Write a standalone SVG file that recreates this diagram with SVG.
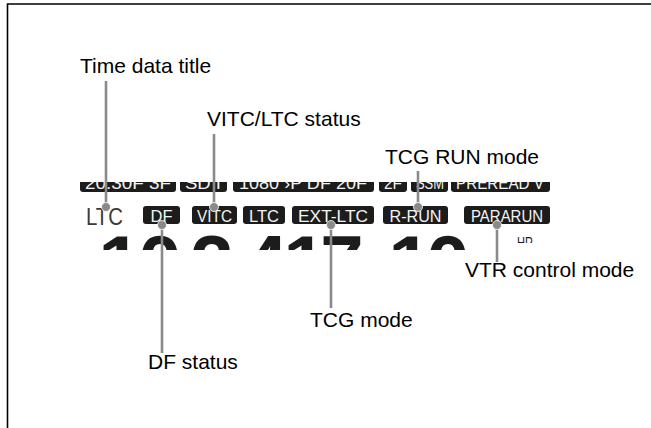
<svg xmlns="http://www.w3.org/2000/svg" width="651" height="428" viewBox="0 0 651 428">
<style>
.lbl{font-family:"Liberation Sans",Arial,sans-serif;font-size:21px;fill:#000}
.box{fill:#1c1c1c}
.bt{font-family:"Liberation Sans",Arial,sans-serif;font-size:17px;fill:#f4f4f4;text-anchor:middle}
.big{font-family:"Liberation Sans",Arial,sans-serif;font-size:78px;font-weight:bold;fill:#1c1c1c;text-anchor:middle}
.con{stroke:#8a8a8a;stroke-width:2.6;fill:none}
.dot{fill:#8a8a8a;stroke:#fff;stroke-width:0.8}
</style>
<defs>
<clipPath id="topRow"><rect x="0" y="182" width="651" height="10"/></clipPath>
<clipPath id="bigRow"><rect x="0" y="232" width="651" height="18"/></clipPath>
<clipPath id="hrClip"><rect x="500" y="230" width="60" height="13"/></clipPath>
</defs>
<rect width="651" height="428" fill="#fff"/>
<path d="M7.5,428 V4 H651" fill="none" stroke="#000" stroke-width="1.6"/>

<g id="display">
<g clip-path="url(#topRow)">
<rect class="box" x="80" y="174" width="96" height="18" rx="3"/>
<text class="bt" x="128" y="189" textLength="86" lengthAdjust="spacingAndGlyphs">20.30F 3F</text>
<rect class="box" x="180" y="174" width="47" height="18" rx="3"/>
<text class="bt" x="203" y="189" textLength="36" lengthAdjust="spacingAndGlyphs">SD I</text>
<rect class="box" x="233" y="174" width="141" height="18" rx="3"/>
<text class="bt" x="303" y="189" textLength="128" lengthAdjust="spacingAndGlyphs">1080 ›P DF 20F</text>
<rect class="box" x="379" y="174" width="28" height="18" rx="3"/>
<text class="bt" x="393" y="189" textLength="18" lengthAdjust="spacingAndGlyphs">2F</text>
<rect class="box" x="411" y="174" width="37" height="18" rx="3"/>
<text class="bt" x="430" y="189" textLength="28" lengthAdjust="spacingAndGlyphs">SSM</text>
<rect class="box" x="451" y="174" width="99" height="18" rx="3"/>
<text class="bt" x="500" y="189" textLength="88" lengthAdjust="spacingAndGlyphs">PREREAD V</text>
</g>
<text x="86" y="225" font-family="Liberation Sans,Arial,sans-serif" font-size="24" fill="#3a3a3a" textLength="37" lengthAdjust="spacingAndGlyphs">LTC</text>
<rect class="box" x="143" y="206" width="37" height="18" rx="3"/>
<text class="bt" x="161.5" y="221.5" textLength="22" lengthAdjust="spacingAndGlyphs">DF</text>
<rect class="box" x="192" y="206" width="45" height="18" rx="3"/>
<text class="bt" x="214.5" y="221.5" textLength="35" lengthAdjust="spacingAndGlyphs">VITC</text>
<rect class="box" x="243" y="206" width="42" height="18" rx="3"/>
<text class="bt" x="264" y="221.5" textLength="30" lengthAdjust="spacingAndGlyphs">LTC</text>
<rect class="box" x="292" y="206" width="82" height="18" rx="3"/>
<text class="bt" x="333" y="221.5" textLength="70" lengthAdjust="spacingAndGlyphs">EXT-LTC</text>
<rect class="box" x="383" y="206" width="65" height="18" rx="3"/>
<text class="bt" x="415.5" y="221.5" textLength="52" lengthAdjust="spacingAndGlyphs">R-RUN</text>
<rect class="box" x="464" y="206" width="86" height="18" rx="3"/>
<text class="bt" x="507" y="221.5" textLength="72" lengthAdjust="spacingAndGlyphs">PARARUN</text>
<g clip-path="url(#bigRow)">
<text class="big" x="120" y="290">1</text>
<text class="big" x="160" y="290">0</text>
<text class="big" x="212" y="290">2</text>
<text class="big" x="266" y="290">4</text>
<text class="big" x="305" y="290">1</text>
<text class="big" x="342" y="290">7</text>
<text class="big" x="410" y="290">1</text>
<text class="big" x="448" y="290">0</text>
</g>
<g clip-path="url(#hrClip)">
<text x="517" y="249" font-family="Liberation Sans,Arial,sans-serif" font-size="16" fill="#1c1c1c" textLength="16" lengthAdjust="spacingAndGlyphs">HR</text>
</g>
</g>

<g id="connectors">
<line class="con" x1="106" y1="81" x2="106" y2="207"/>
<circle class="dot" cx="106" cy="207" r="4.5"/>
<line class="con" x1="214" y1="134" x2="214" y2="207"/>
<circle class="dot" cx="214" cy="207" r="4.5"/>
<line class="con" x1="418" y1="171" x2="418" y2="207"/>
<circle class="dot" cx="418" cy="207" r="4.5"/>
<line class="con" x1="162" y1="225" x2="162" y2="353"/>
<circle class="dot" cx="162" cy="225" r="4.5"/>
<line class="con" x1="331" y1="225" x2="331" y2="308"/>
<circle class="dot" cx="331" cy="225" r="4.5"/>
<line class="con" x1="497" y1="225" x2="497" y2="262"/>
<circle class="dot" cx="497" cy="225" r="4.5"/>
</g>

<g id="label-time-data-title"><text class="lbl" x="80" y="73">Time data title</text></g>
<g id="label-vitc-ltc-status"><text class="lbl" x="207" y="126">VITC/LTC status</text></g>
<g id="label-tcg-run-mode"><text class="lbl" x="385" y="164">TCG RUN mode</text></g>
<g id="label-vtr-control-mode"><text class="lbl" x="465" y="277">VTR control mode</text></g>
<g id="label-tcg-mode"><text class="lbl" x="310" y="327">TCG mode</text></g>
<g id="label-df-status"><text class="lbl" x="148" y="369">DF status</text></g>
</svg>
